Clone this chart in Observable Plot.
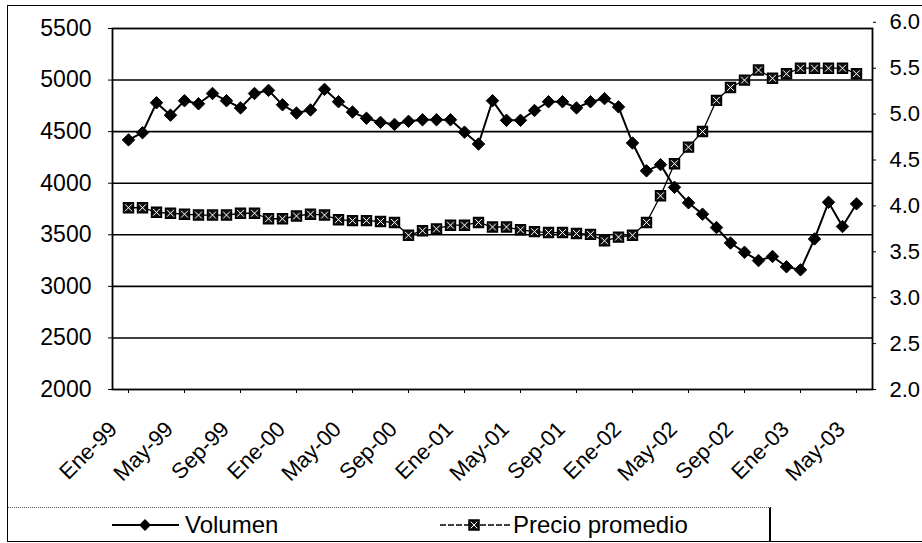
<!DOCTYPE html>
<html><head><meta charset="utf-8">
<script src="https://cdn.jsdelivr.net/npm/d3@7"></script>
<script src="https://cdn.jsdelivr.net/npm/@observablehq/plot@0.6"></script>
<style>
body{margin:0;background:#fff;width:922px;height:543px;overflow:hidden;position:relative;font-family:"Liberation Sans",Arial,sans-serif;}
#chart{position:absolute;left:0;top:0;}
#border{position:absolute;left:7px;top:5px;width:915px;height:537px;border:1.5px solid #000;border-right:none;box-sizing:border-box;pointer-events:none;}
#legend{position:absolute;left:8px;top:507px;width:763px;height:35px;border-top:1px dotted #555;border-right:2px solid #000;box-sizing:border-box;}
#legend svg{position:absolute;left:0;top:0;overflow:visible;}
</style></head><body>
<div id="chart"></div>
<div id="border"></div>
<div id="legend"></div>
<script>
// Categories (monthly, Spanish abbreviations)
const monthNames = ["Ene","Feb","Mar","Abr","May","Jun","Jul","Ago","Sep","Oct","Nov","Dic"];
const years = ["99","00","01","02","03"];
const months = [];
years.forEach(y => monthNames.forEach(m => months.push(`${m}-${y}`)));
months.length = 53; // Ene-99 .. May-03

// Series: Volumen (left axis)
const volumen = [
  4420, 4490, 4780, 4660, 4800, 4770, 4870, 4800, 4730, 4870, 4900, 4760,
  4680, 4710, 4910, 4790, 4690, 4630, 4590, 4570, 4600, 4615, 4615, 4615,
  4495, 4380, 4800, 4610, 4610, 4705, 4790, 4790, 4730, 4790, 4820, 4740,
  4390, 4120, 4180, 3960, 3810, 3700, 3570, 3420, 3330, 3250, 3290, 3190,
  3160, 3460, 3815, 3580, 3800
];
// Series: Precio promedio (right axis)
const precio = [
  3.98, 3.98, 3.93, 3.92, 3.91, 3.90, 3.90, 3.90, 3.92, 3.92, 3.86, 3.86,
  3.89, 3.91, 3.90, 3.85, 3.84, 3.84, 3.83, 3.82, 3.68, 3.73, 3.75, 3.79,
  3.79, 3.82, 3.77, 3.77, 3.74, 3.72, 3.71, 3.71, 3.70, 3.69, 3.62, 3.66,
  3.68, 3.82, 4.11, 4.46, 4.64, 4.81, 5.15, 5.29, 5.37, 5.48, 5.39, 5.44,
  5.50, 5.50, 5.50, 5.50, 5.44
];
const leftTicks = [2000, 2500, 3000, 3500, 4000, 4500, 5000, 5500];
const gridTicks = [2500, 3000, 3500, 4000, 4500, 5000];
const rightTicks = [2.0, 2.5, 3.0, 3.5, 4.0, 4.5, 5.0, 5.5, 6.0];
const xTickLabels = months.filter((d, i) => i % 4 === 0);
const seriesNames = ["Volumen", "Precio promedio"];

// map right-axis values onto the left scale
const toLeft = p => 2000 + (p - 2) * 890;

const volData = months.map((m, i) => ({m, v: volumen[i]}));
const preData = months.map((m, i) => ({m, v: toLeft(precio[i])}));

const font = '"Liberation Sans", Arial, sans-serif';

const chart = Plot.plot({
  width: 922,
  height: 500,
  marginLeft: 112,
  marginRight: 50,
  marginTop: 28,
  marginBottom: 111,
  style: {fontFamily: font, fontSize: "22px", background: "transparent", color: "#000"},
  x: {type: "point", domain: months, padding: 0.5},
  y: {domain: [2000, 5500]},
  marks: [
    Plot.gridY(gridTicks, {stroke: "#000", strokeOpacity: 1, strokeWidth: 1.6}),
    Plot.frame({stroke: "#000", strokeWidth: 1.8}),
    Plot.axisY(leftTicks, {anchor: "left", tickSize: 4, tickPadding: 17, fontSize: 23, label: null, tickFormat: d => String(d)}),
    Plot.axisY(rightTicks, {anchor: "right", y: d => toLeft(d), tickSize: 3, tickPadding: 14, fontSize: 22, label: null, tickFormat: d => d.toFixed(1)}),
    Plot.axisX(xTickLabels, {tickSize: 4, label: null, tickFormat: () => ""}),
    Plot.text(xTickLabels, {x: d => d, frameAnchor: "bottom", text: d => d, rotate: -45, textAnchor: "end", lineAnchor: "middle", dx: -15, dy: 36, fontSize: 22}),
    Plot.line(preData, {x: "m", y: "v", stroke: "#000", strokeWidth: 1.3}),
    Plot.dot(preData, {x: "m", y: "v", symbol: "square", r: 5.6, fill: "#111", stroke: "#000", strokeWidth: 1.5}),
    Plot.dot(preData, {x: "m", y: "v", symbol: "times", r: 3.2, stroke: "#fff", strokeWidth: 1}),
    Plot.line(volData, {x: "m", y: "v", stroke: "#000", strokeWidth: 2}),
    Plot.dot(volData, {x: "m", y: "v", symbol: "diamond2", r: 5.6, fill: "#000", stroke: "#000", strokeWidth: 1})
  ]
});
document.getElementById("chart").appendChild(chart);

// Legend
const lg = d3.select("#legend").append("svg").attr("width", 770).attr("height", 36);
const g1 = lg.append("g");
g1.append("line").attr("x1", 104).attr("x2", 171).attr("y1", 17).attr("y2", 17).attr("stroke", "#000").attr("stroke-width", 2);
g1.append("path").attr("d", d3.symbol(d3.symbolDiamond2, 90)()).attr("transform", "translate(137,17)").attr("fill", "#000");
g1.append("text").attr("x", 177).attr("y", 25).attr("font-family", font).attr("font-size", 24).text(seriesNames[0]);
const g2 = lg.append("g");
g2.append("line").attr("x1", 432).attr("x2", 502).attr("y1", 17).attr("y2", 17).attr("stroke", "#000").attr("stroke-width", 1.3).attr("stroke-dasharray", "6,2");
g2.append("path").attr("d", d3.symbol(d3.symbolSquare, 100)()).attr("transform", "translate(466,17)").attr("fill", "#111").attr("stroke", "#000").attr("stroke-width", 1.5);
g2.append("path").attr("d", d3.symbol(d3.symbolTimes, 30)()).attr("transform", "translate(466,17)").attr("fill", "none").attr("stroke", "#fff").attr("stroke-width", 1);
g2.append("text").attr("x", 505).attr("y", 25).attr("font-family", font).attr("font-size", 24).text(seriesNames[1]);
</script>
</body></html>
